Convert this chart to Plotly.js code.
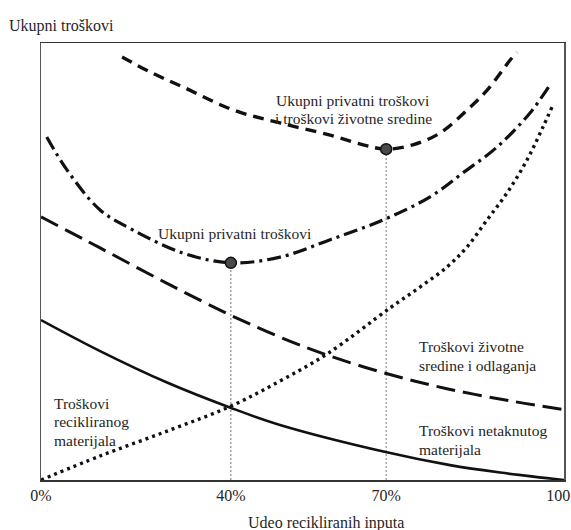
<!DOCTYPE html>
<html>
<head>
<meta charset="utf-8">
<script src="https://cdn.plot.ly/plotly-3.0.1.min.js"></script>
<style>html,body{margin:0;padding:0;background:#fff;}#chart{width:571px;height:530px;}</style>
</head>
<body>
<div id="chart"></div>
<script>
// x: position along the schematic share-of-recycled-inputs axis (0..100), y: total cost (0..100)
const xTickVals = [0, 36.3, 66.0, 98.9];
const xTickText = ['0%', '40%', '70%', '100'];

const virginX = [0, 11.3, 24.1, 36.1, 45.7, 65.9, 78.2, 87.8, 100];
const virginY = [36.6, 29.5, 22.3, 16.6, 12.6, 6.4, 3.4, 1.7, 0];

const recycledX = [0, 11.28, 24.67, 36.14, 45.70, 54.68, 66.73, 72.47, 77.63, 81.45, 85.28, 89.10, 92.93, 95.98, 97.71];
const recycledY = [0, 5.49, 11.44, 16.82, 22.65, 28.83, 39.36, 44.16, 48.74, 53.32, 59.50, 65.68, 73.23, 80.78, 85.35];

const envX = [0, 11.3, 24.1, 36.1, 45.7, 54.7, 66.2, 77.6, 90.2, 100];
const envY = [60.2, 53.1, 45.0, 37.8, 32.7, 28.6, 24.3, 20.9, 18.0, 16.1];

const privateX = [1.1, 5.0, 11.3, 17.6, 27.2, 36.3, 45.7, 55.3, 65.4, 74.4, 80.7, 87.2, 93.5, 97.3];
const privateY = [78.5, 70.9, 61.8, 57.2, 51.9, 49.7, 51.0, 55.0, 59.5, 64.8, 70.3, 76.2, 84.0, 90.4];

const socialX = [15.5, 20.8, 27.2, 36.7, 45.7, 55.3, 61.6, 66.0, 71.1, 76.3, 81.5, 85.3, 89.7, 91.0];
const socialY = [96.8, 93.4, 89.9, 84.7, 81.7, 78.9, 76.7, 75.7, 76.7, 79.4, 84.7, 89.2, 96.1, 97.9];

const optimaX = [36.3, 66.0];
const optimaY = [49.7, 75.7];

const yTitle = 'Ukupni troškovi';
const xTitle = 'Udeo recikliranih inputa';
const labelSocial = ['Ukupni privatni troškovi', 'i troškovi životne sredine'];
const labelPrivate = ['Ukupni privatni troškovi'];
const labelEnv = ['Troškovi životne', 'sredine i odlaganja'];
const labelVirgin = ['Troškovi netaknutog', 'materijala'];
const labelRecycled = ['Troškovi', 'recikliranog', 'materijala'];

const FONT = 'Liberation Serif, Times New Roman, serif';
const TXT = '#262626';
const FS = 16;
const LFS = 15.5;

function guide(i) {
  return {x: [optimaX[i], optimaX[i]], y: [0, optimaY[i]], mode: 'lines', type: 'scatter',
    line: {color: '#8a8a8a', width: 1.2, dash: '2px,2px'}, hoverinfo: 'skip'};
}
function curve(x, y, dash, width) {
  return {x: x, y: y, mode: 'lines', type: 'scatter',
    line: {color: '#111', width: width, dash: dash, shape: 'spline', smoothing: 1}, hoverinfo: 'skip'};
}

const data = [
  guide(0), guide(1),
  curve(virginX, virginY, 'solid', 2.6),
  curve(recycledX, recycledY, '3px,4px', 3.4),
  curve(envX, envY, '19px,8px', 3),
  curve(privateX, privateY, '14px,5px,3px,5px', 3.2),
  curve(socialX, socialY, '11px,7px', 3.4),
  {x: optimaX, y: optimaY, mode: 'markers', type: 'scatter',
    marker: {size: 11, color: '#4a4a4a', line: {color: '#111', width: 1.5}}, hoverinfo: 'skip'}
];

const annotations = [];
const sp = 18.5 / 4.37;
function addLines(lines, x, yTop, anchor) {
  lines.forEach((t, i) => {
    annotations.push({text: t, x: x, y: yTop - i * sp, xref: 'x', yref: 'y',
      xanchor: anchor, yanchor: 'middle', showarrow: false, borderpad: 0,
      font: {family: FONT, size: LFS, color: TXT}});
  });
}
addLines(labelSocial, 59.7, 86.9, 'center');
addLines(labelPrivate, 37.1, 56.5, 'center');
addLines(labelEnv, 72.1, 30.5, 'left');
addLines(labelVirgin, 72.1, 11.3, 'left');
addLines(labelRecycled, 2.3, 17.6, 'left');

annotations.push({text: yTitle, xref: 'paper', yref: 'paper', x: -0.065, y: 1.0, xanchor: 'left', yanchor: 'bottom',
  yshift: 6, showarrow: false, font: {family: FONT, size: FS, color: TXT}});
annotations.push({text: xTitle, xref: 'x', yref: 'paper', x: 54.5, y: 0, xanchor: 'center', yanchor: 'top',
  yshift: -32, showarrow: false, font: {family: FONT, size: FS, color: TXT}});

const layout = {
  width: 571, height: 530,
  margin: {l: 41, r: 7, t: 43, b: 50},
  paper_bgcolor: '#ffffff', plot_bgcolor: '#ffffff',
  showlegend: false,
  xaxis: {range: [0, 100], tickvals: xTickVals, ticktext: xTickText, showgrid: false, zeroline: false,
    showline: true, linecolor: '#333', linewidth: 1.5, mirror: true, ticks: '', ticklen: 0,
    ticklabeloverflow: 'allow', automargin: false,
    tickfont: {family: FONT, size: FS, color: TXT}, fixedrange: true},
  yaxis: {range: [0, 100], showticklabels: false, showgrid: false, zeroline: false,
    showline: true, linecolor: '#555', linewidth: 1.5, mirror: true, ticks: '', fixedrange: true},
  annotations: annotations
};

Plotly.newPlot('chart', data, layout, {displayModeBar: false, staticPlot: true});
</script>
</body>
</html>
